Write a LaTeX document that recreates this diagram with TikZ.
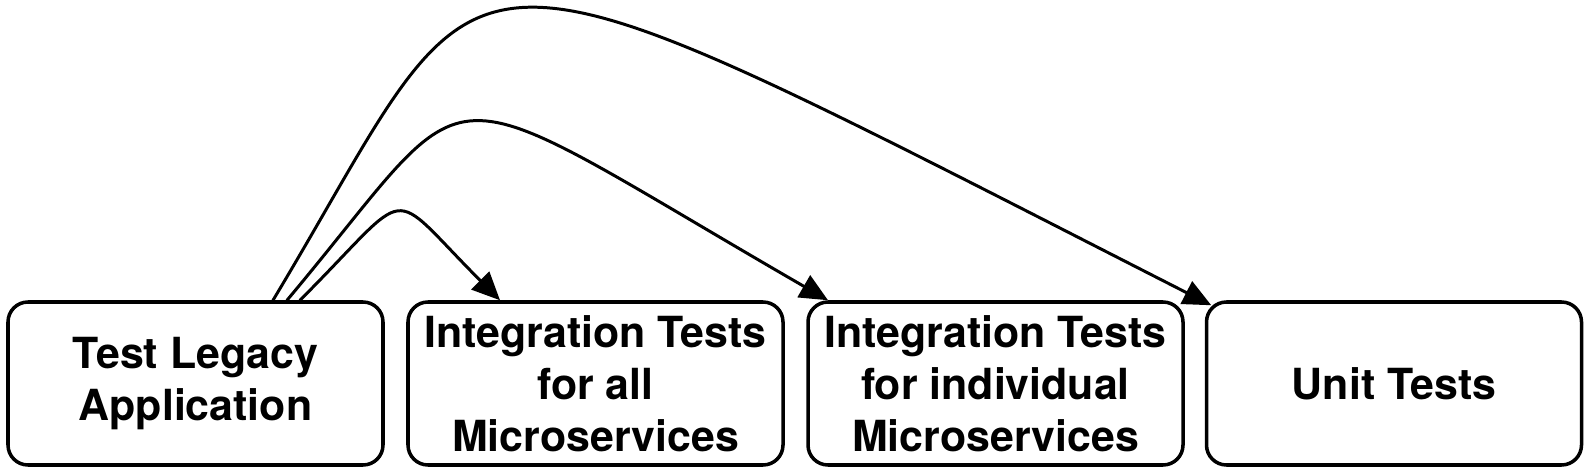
\documentclass[tikz,border=0pt]{standalone}
\usepackage{fontspec}
\setmainfont{TeX Gyre Heros}
\usetikzlibrary{arrows.meta}

\begin{document}
\begin{tikzpicture}[line cap=round,line join=round,>={Triangle[length=0.56cm,width=0.5cm]},x=1cm,y=1cm,
  testbox/.style={draw,line width=2pt,rounded corners=0.4cm,minimum width=7.5cm,minimum height=3.26cm,
    align=center,font=\fontsize{24.4}{29.6}\selectfont\bfseries},
  flow/.style={->,line width=1.7pt}]
\useasboundingbox (0,0) rectangle (31.72,9.46);

\node[testbox] (legacy) at (3.91,1.79) {Test Legacy\\Application};
\node[testbox] (allms) at (11.91,1.79) {Integration Tests\\for all\\Microservices};
\node[testbox] (onems) at (19.91,1.79) {Integration Tests\\for individual\\Microservices};
\node[testbox] (unit) at (27.88,1.79) {Unit Tests};

\draw [flow] ([xshift=2.09cm]legacy.north) to[out=45,in=135,out distance=3.28cm,in distance=3.28cm] ([xshift=-1.91cm]allms.north);
\draw [flow] ([xshift=1.83cm]legacy.north) to[out=50,in=150,out distance=6.2cm,in distance=9.48cm] ([xshift=-3.35cm]onems.north);
\draw [flow] ([xshift=1.55cm]legacy.north) to[out=59,in=153,out distance=8.85cm,in distance=17.82cm] ([xshift=0.13cm,yshift=-0.1cm]unit.north west);

\end{tikzpicture}
\end{document}
